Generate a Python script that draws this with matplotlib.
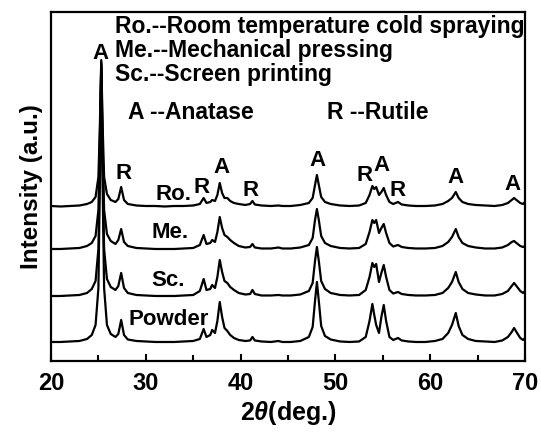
import matplotlib
matplotlib.use("Agg")
import matplotlib.pyplot as plt
from matplotlib.ticker import MultipleLocator

plt.rcParams['font.family'] = 'Liberation Sans'
plt.rcParams['font.weight'] = 'bold'
plt.rcParams['axes.labelweight'] = 'bold'
plt.rcParams['mathtext.fontset'] = 'custom'
plt.rcParams['mathtext.rm'] = 'Liberation Sans:bold'
plt.rcParams['mathtext.it'] = 'Liberation Sans:italic'

# 2theta positions (deg.)
two_theta = [
    20, 21, 22, 23, 23.8, 24.3, 24.7, 25.0, 25.15, 25.3,
    25.45, 25.6, 25.9, 26.3, 26.8, 27.1, 27.4, 27.7, 28.1, 29,
    30, 31, 32, 33, 34, 35, 35.7, 36.1, 36.4, 36.8,
    37.0, 37.3, 37.55, 37.8, 38.05, 38.3, 38.6, 38.9, 39.3, 39.8,
    40.5, 41.0, 41.25, 41.5, 42.2, 43.2, 44.0, 44.4, 45.3, 46.3,
    47.2, 47.6, 47.85, 48.05, 48.25, 48.5, 48.9, 49.5, 50.5, 51.5,
    52.5, 53.2, 53.6, 53.9, 54.1, 54.3, 54.6, 54.85, 55.1, 55.35,
    55.7, 56.1, 56.6, 57.0, 57.7, 58.5, 59.5, 60.5, 61.3, 61.9,
    62.3, 62.7, 63.0, 63.4, 64.0, 64.8, 65.8, 66.8, 67.6, 68.2,
    68.6, 68.85, 69.1, 69.5, 69.8, 70.0,
]

# intensities above each curve's own baseline (a.u.)
ro = [
    1, 0.5, 1, 1.5, 3, 5, 10, 30, 80, 147,
    80, 30, 13, 7, 5, 8, 20, 7, 3, 1.5,
    1, 1, 0.5, 1, 1, 1.5, 3, 9, 4, 5,
    7, 6, 12, 24, 14, 9, 9, 6, 4, 3,
    2, 3, 6, 2.5, 1.5, 1, 1.5, 1, 1, 2,
    4, 9, 22, 32, 22, 10, 5, 3, 1.5, 1,
    1.5, 4, 12, 21, 18, 20, 12, 15, 19, 12,
    5, 3, 5, 2.5, 1.5, 1, 1, 1.5, 3, 6,
    9, 15, 9, 5, 3, 2, 1.5, 1, 2, 4,
    7, 9, 7, 4, 3, 5,
]
me = [
    1, 1, 1.5, 2, 4, 7, 14, 40, 110, 188,
    105, 40, 16, 9, 6, 10, 21, 8, 4, 2,
    1.5, 1, 1, 1, 1.5, 2, 5, 15, 6, 7,
    10, 8, 18, 33, 22, 15, 13, 10, 7, 4,
    2.5, 3, 6, 2.5, 1.5, 1.5, 2.5, 1.5, 1.5, 2.5,
    5, 12, 30, 41, 30, 14, 7, 4, 2, 1.5,
    2, 6, 18, 30, 27, 30, 17, 22, 26, 17,
    7, 3.5, 5, 3, 2, 1.5, 1.5, 2, 4, 8,
    13, 21, 13, 7, 4, 2.5, 1.5, 1.5, 2.5, 5,
    8, 9, 7, 4, 3, 4,
]
sc = [
    1, 1, 1.5, 2, 4, 8, 16, 48, 135, 233,
    130, 48, 18, 10, 7, 11, 24, 9, 4, 2,
    1.5, 1, 1, 1, 1.5, 2, 6, 18, 7, 8,
    12, 9, 20, 37, 25, 16, 14, 10, 7, 4,
    2.5, 3, 7, 3, 1.5, 1.5, 2, 1.5, 1.5, 2.5,
    6, 14, 36, 50, 36, 16, 8, 4, 2, 1.5,
    2, 7, 20, 34, 30, 33, 15, 24, 32, 20,
    7, 3.5, 5, 3, 2, 1.5, 1.5, 2, 4, 9,
    15, 25, 15, 8, 4, 2.5, 1.5, 1.5, 3, 6,
    11, 14, 11, 6, 4, 6,
]
powder = [
    1, 1, 1.5, 2, 4, 8, 18, 55, 160, 277,
    155, 55, 18, 9, 6, 9, 23, 8, 3.5, 2,
    1.5, 1, 1, 1, 1.5, 2, 4, 14, 6, 8,
    13, 10, 22, 41, 26, 15, 12, 8, 5, 3,
    2, 2.5, 6, 2.5, 1.5, 1, 2, 1, 1, 2,
    6, 16, 42, 61, 42, 17, 7, 3.5, 1.5, 1,
    1.5, 6, 22, 39, 28, 18, 10, 26, 38, 22,
    6, 3, 5, 2.5, 1.5, 1, 1, 2, 4, 10,
    18, 30, 17, 8, 4, 2, 1.5, 1, 2.5, 6,
    11, 15, 11, 5, 3, 5,
]

curves = [ro, me, sc, powder]
offsets = [154, 111, 64, 18]
curve_labels = ["Ro.", "Me.", "Sc.", "Powder"]
curve_label_pos = [(32.9, 166), (32.55, 128), (32.3, 80), (32.45, 41)]

# phase markers above the Ro. curve
phase_marks = ["A", "R", "R", "A", "R", "A", "R", "A", "R", "A", "A"]
phase_pos = [(25.27, 308), (27.7, 187), (35.9, 173), (38.0, 193), (41.0, 170),
             (48.06, 200), (53.1, 185), (54.9, 195), (56.6, 170), (62.7, 183),
             (68.7, 176)]

legend_lines = ["Ro.--Room temperature cold spraying",
                "Me.--Mechanical pressing",
                "Sc.--Screen printing"]

fig = plt.figure(figsize=(5.41, 4.32), dpi=100)
ax = fig.add_axes([0.0943, 0.1644, 0.8761, 0.8078])

for vals, off in zip(curves, offsets):
    ax.plot(two_theta, [v + off for v in vals], color='black', linewidth=1.6)

for lab, (x, y) in zip(curve_labels, curve_label_pos):
    ax.text(x, y, lab, fontsize=16, ha='center', va='center')

for lab, (x, y) in zip(phase_marks, phase_pos):
    ax.text(x, y, lab, fontsize=16, ha='center', va='center')

for i, line in enumerate(legend_lines):
    ax.text(26.8, 335 - i * 24, line, fontsize=16.5, ha='left', va='center')
ax.text(28.1, 249, "A --Anatase", fontsize=16.5, ha='left', va='center')
ax.text(49.1, 249, "R --Rutile", fontsize=16.5, ha='left', va='center')

ax.set_xlim(20, 70)
ax.set_ylim(0, 349)
ax.xaxis.set_major_locator(MultipleLocator(10))
ax.xaxis.set_minor_locator(MultipleLocator(5))
ax.tick_params(axis='x', which='both', direction='in', top=False, labelsize=17, pad=8)
ax.tick_params(axis='x', which='major', length=5, width=1.5)
ax.tick_params(axis='x', which='minor', length=4, width=1.5)
ax.set_yticks([])
for s in ax.spines.values():
    s.set_linewidth(1.6)

ax.set_xlabel(r"$2\theta$(deg.)", fontsize=18, labelpad=3)
ax.set_ylabel("Intensity (a.u.)", fontsize=17.5, labelpad=6)

plt.savefig("out.png", dpi=100)
